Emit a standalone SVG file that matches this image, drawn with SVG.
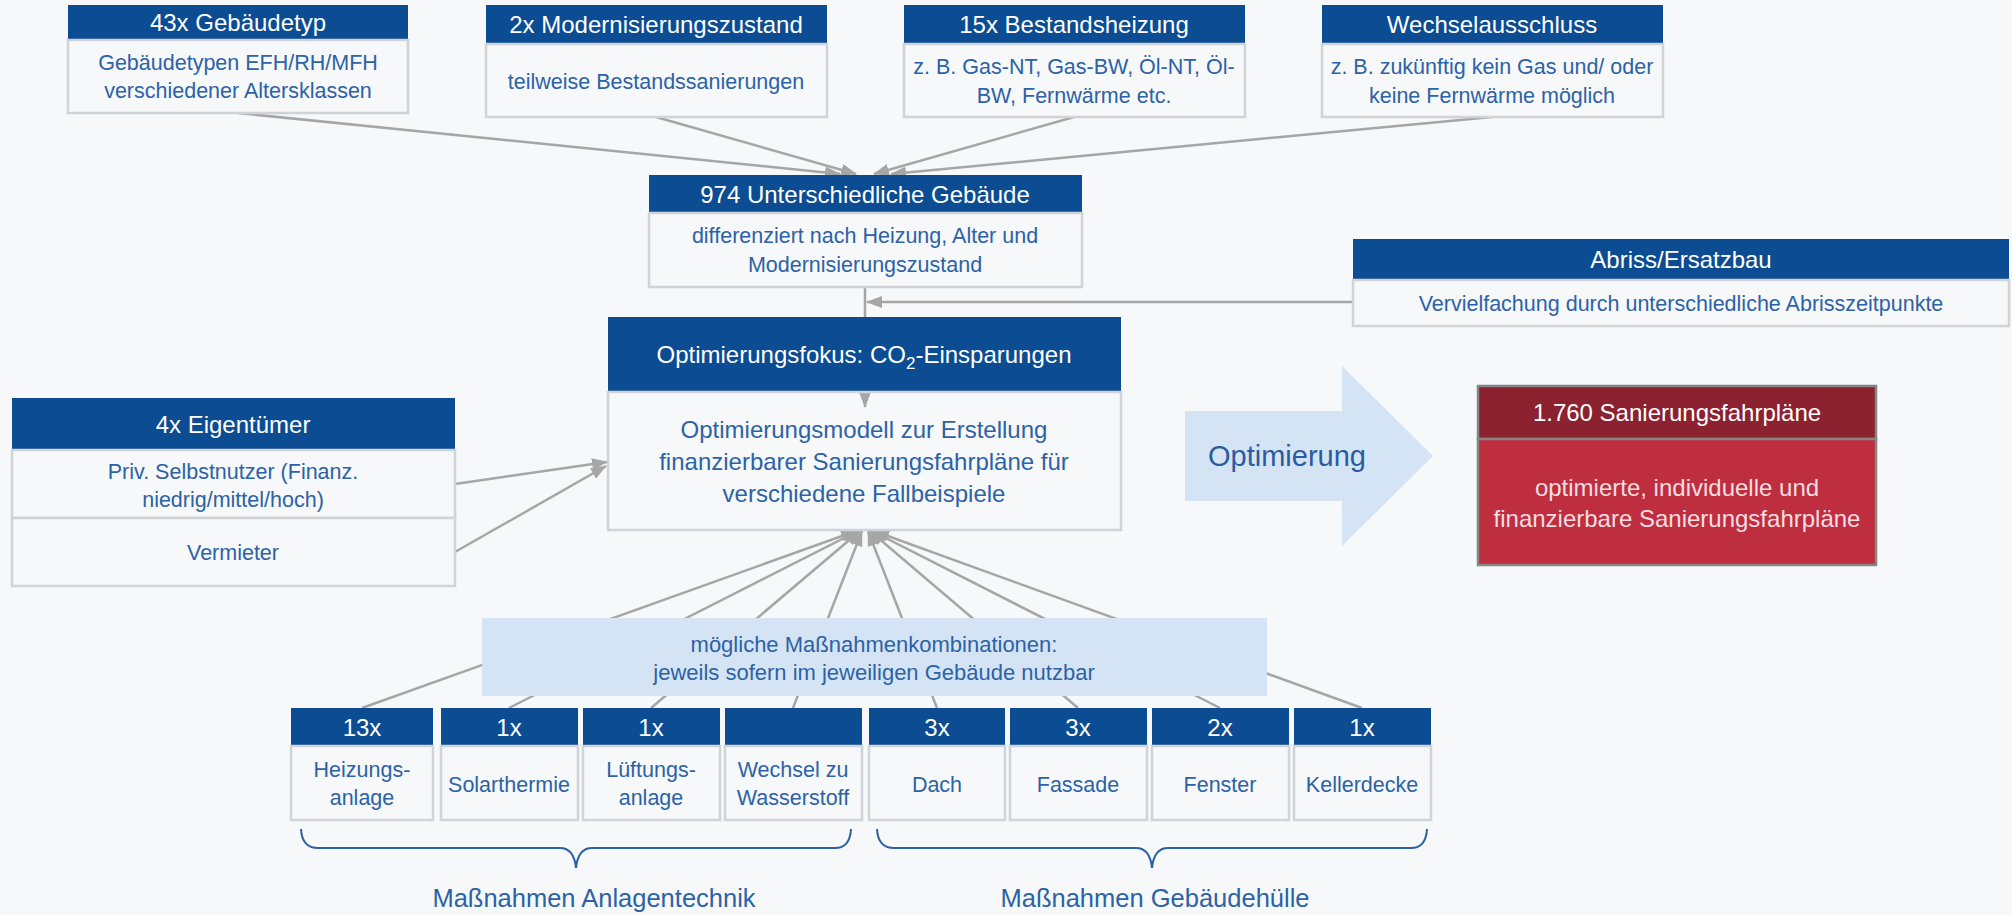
<svg xmlns="http://www.w3.org/2000/svg" width="2012" height="915" viewBox="0 0 2012 915">
<defs>
<style>
text { font-family: "Liberation Sans", Arial, sans-serif; text-anchor: middle; }
.hd { fill: #0b4c92; }
.bd { fill: #f6f8fa; stroke: #d0d3d7; stroke-width: 2.5; }
.bdn { fill: none; stroke: #d0d3d7; stroke-width: 2.5; }
.ht { fill: #ffffff; font-size: 24px; }
.bt { fill: #2d62a6; font-size: 21.5px; }
.bt24 { fill: #2d62a6; font-size: 24px; }
.con { stroke: #a6a6a6; stroke-width: 2.5; fill: none; marker-end: url(#ah); }
.brace { stroke: #2d5fa3; stroke-width: 2; fill: none; }
.lbl { fill: #2d62a6; font-size: 25.5px; }
</style>
<marker id="ah" markerUnits="userSpaceOnUse" markerWidth="16" markerHeight="12" refX="15" refY="6" orient="auto"><path d="M0,0 L16,6 L0,12 z" fill="#a6a6a6"/></marker>
</defs>
<rect x="0" y="0" width="2012" height="915" fill="#f6f8fa"/>

<g id="connectors">
<path class="con" d="M238,113 L840,174"/>
<path class="con" d="M656,117 L856,174"/>
<path class="con" d="M1074,117 L874,174"/>
<path class="con" d="M1492,117 L891,174"/>
<path class="con" d="M1353,302 L867,302"/>
<path class="con" d="M865,287 L865,407"/>
<path class="con" d="M455,484 L607,462"/>
<path class="con" d="M455,552 L606,466"/>
<path class="con" d="M362,708 L856,531"/>
<path class="con" d="M509,708 L858,531"/>
<path class="con" d="M651,708 L860,531"/>
<path class="con" d="M793,708 L862,531"/>
<path class="con" d="M937,708 L868,531"/>
<path class="con" d="M1078,708 L870,531"/>
<path class="con" d="M1220,708 L872,531"/>
<path class="con" d="M1362,708 L874,531"/>
</g>

<g id="n-gebaeudetyp">
<rect class="hd" x="68" y="5" width="340" height="35"/>
<rect class="bd" x="68" y="40" width="340" height="73"/>
<text class="ht" x="238" y="31">43x Gebäudetyp</text>
<text class="bt" x="238" y="70">Gebäudetypen EFH/RH/MFH</text>
<text class="bt" x="238" y="98">verschiedener Altersklassen</text>
</g>

<g id="n-modernisierung">
<rect class="hd" x="486" y="5" width="341" height="39"/>
<rect class="bd" x="486" y="44" width="341" height="73"/>
<text class="ht" x="656" y="33">2x Modernisierungszustand</text>
<text class="bt" x="656" y="89">teilweise Bestandssanierungen</text>
</g>

<g id="n-bestandsheizung">
<rect class="hd" x="904" y="5" width="341" height="39"/>
<rect class="bd" x="904" y="44" width="341" height="73"/>
<text class="ht" x="1074" y="33">15x Bestandsheizung</text>
<text class="bt" x="1074" y="74">z. B. Gas-NT, Gas-BW, Öl-NT, Öl-</text>
<text class="bt" x="1074" y="103">BW, Fernwärme etc.</text>
</g>

<g id="n-wechselausschluss">
<rect class="hd" x="1322" y="5" width="341" height="39"/>
<rect class="bd" x="1322" y="44" width="341" height="73"/>
<text class="ht" x="1492" y="33">Wechselausschluss</text>
<text class="bt" x="1492" y="74">z. B. zukünftig kein Gas und/ oder</text>
<text class="bt" x="1492" y="103">keine Fernwärme möglich</text>
</g>

<g id="n-gebaeude">
<rect class="hd" x="649" y="175" width="433" height="38"/>
<rect class="bd" x="649" y="213" width="433" height="74"/>
<text class="ht" x="865" y="203">974 Unterschiedliche Gebäude</text>
<text class="bt" x="865" y="243">differenziert nach Heizung, Alter und</text>
<text class="bt" x="865" y="272">Modernisierungszustand</text>
</g>

<g id="n-abriss">
<rect class="hd" x="1353" y="239" width="656" height="41"/>
<rect class="bd" x="1353" y="280" width="656" height="46"/>
<text class="ht" x="1681" y="268">Abriss/Ersatzbau</text>
<text class="bt" x="1681" y="311">Vervielfachung durch unterschiedliche Abrisszeitpunkte</text>
</g>

<g id="n-optimierungsmodell">
<rect class="hd" x="608" y="317" width="513" height="75"/>
<rect class="bdn" x="608" y="392" width="513" height="138"/>
<text class="ht" x="864" y="363">Optimierungsfokus: CO<tspan dy="6" font-size="17">2</tspan><tspan dy="-6">-Einsparungen</tspan></text>
<text class="bt24" x="864" y="438">Optimierungsmodell zur Erstellung</text>
<text class="bt24" x="864" y="470">finanzierbarer Sanierungsfahrpläne für</text>
<text class="bt24" x="864" y="502">verschiedene Fallbeispiele</text>
</g>

<g id="n-eigentuemer">
<rect class="hd" x="12" y="398" width="443" height="52"/>
<rect class="bd" x="12" y="450" width="443" height="68"/>
<rect class="bd" x="12" y="518" width="443" height="68"/>
<text class="ht" x="233" y="433">4x Eigentümer</text>
<text class="bt" x="233" y="479">Priv. Selbstnutzer (Finanz.</text>
<text class="bt" x="233" y="507">niedrig/mittel/hoch)</text>
<text class="bt" x="233" y="560">Vermieter</text>
</g>

<g id="n-optimierung-pfeil">
<polygon points="1185,411 1342,411 1342,366 1433,456 1342,546 1342,501 1185,501" fill="#d4e4f4"/>
<text x="1287" y="466" fill="#2a5ca0" font-size="29px">Optimierung</text>
</g>

<g id="n-sanierungsfahrplaene">
<rect x="1478" y="386" width="398" height="53" fill="#8c2130" stroke="#858585" stroke-width="2.5"/>
<rect x="1478" y="439" width="398" height="126" fill="#be2e3f" stroke="#858585" stroke-width="2.5"/>
<text class="ht" x="1677" y="421">1.760 Sanierungsfahrpläne</text>
<text x="1677" y="496" fill="#f6dde1" font-size="24px">optimierte, individuelle und</text>
<text x="1677" y="527" fill="#f6dde1" font-size="24px">finanzierbare Sanierungsfahrpläne</text>
</g>

<g id="n-massnahmenkombinationen">
<rect x="482" y="618" width="785" height="78" fill="#d4e4f4"/>
<text x="874" y="652" fill="#2d62a6" font-size="22px">mögliche Maßnahmenkombinationen:</text>
<text x="874" y="680" fill="#2d62a6" font-size="22px">jeweils sofern im jeweiligen Gebäude nutzbar</text>
</g>

<g id="n-heizungsanlage">
<rect class="hd" x="291" y="708" width="142" height="38"/>
<rect class="bd" x="291" y="746" width="142" height="74"/>
<text class="ht" x="362" y="736">13x</text>
<text class="bt" x="362" y="777">Heizungs-</text>
<text class="bt" x="362" y="805">anlage</text>
</g>

<g id="n-solarthermie">
<rect class="hd" x="441" y="708" width="137" height="38"/>
<rect class="bd" x="441" y="746" width="137" height="74"/>
<text class="ht" x="509" y="736">1x</text>
<text class="bt" x="509" y="792">Solarthermie</text>
</g>

<g id="n-lueftungsanlage">
<rect class="hd" x="583" y="708" width="137" height="38"/>
<rect class="bd" x="583" y="746" width="137" height="74"/>
<text class="ht" x="651" y="736">1x</text>
<text class="bt" x="651" y="777">Lüftungs-</text>
<text class="bt" x="651" y="805">anlage</text>
</g>

<g id="n-wasserstoff">
<rect class="hd" x="725" y="708" width="137" height="38"/>
<rect class="bd" x="725" y="746" width="137" height="74"/>
<text class="bt" x="793" y="777">Wechsel zu</text>
<text class="bt" x="793" y="805">Wasserstoff</text>
</g>

<g id="n-dach">
<rect class="hd" x="869" y="708" width="136" height="38"/>
<rect class="bd" x="869" y="746" width="136" height="74"/>
<text class="ht" x="937" y="736">3x</text>
<text class="bt" x="937" y="792">Dach</text>
</g>

<g id="n-fassade">
<rect class="hd" x="1010" y="708" width="137" height="38"/>
<rect class="bd" x="1010" y="746" width="137" height="74"/>
<text class="ht" x="1078" y="736">3x</text>
<text class="bt" x="1078" y="792">Fassade</text>
</g>

<g id="n-fenster">
<rect class="hd" x="1152" y="708" width="137" height="38"/>
<rect class="bd" x="1152" y="746" width="137" height="74"/>
<text class="ht" x="1220" y="736">2x</text>
<text class="bt" x="1220" y="792">Fenster</text>
</g>

<g id="n-kellerdecke">
<rect class="hd" x="1294" y="708" width="137" height="38"/>
<rect class="bd" x="1294" y="746" width="137" height="74"/>
<text class="ht" x="1362" y="736">1x</text>
<text class="bt" x="1362" y="792">Kellerdecke</text>
</g>

<g id="n-anlagentechnik">
<path class="brace" d="M301,829 Q302,848 318,848 L560,848 Q574,848 576,868 Q578,848 592,848 L835,848 Q850,848 851,829"/>
<text class="lbl" x="594" y="907">Maßnahmen Anlagentechnik</text>
</g>

<g id="n-gebaeudehuelle">
<path class="brace" d="M877,829 Q878,848 894,848 L1136,848 Q1150,848 1152,868 Q1154,848 1168,848 L1411,848 Q1426,848 1427,829"/>
<text class="lbl" x="1155" y="907">Maßnahmen Gebäudehülle</text>
</g>
</svg>
